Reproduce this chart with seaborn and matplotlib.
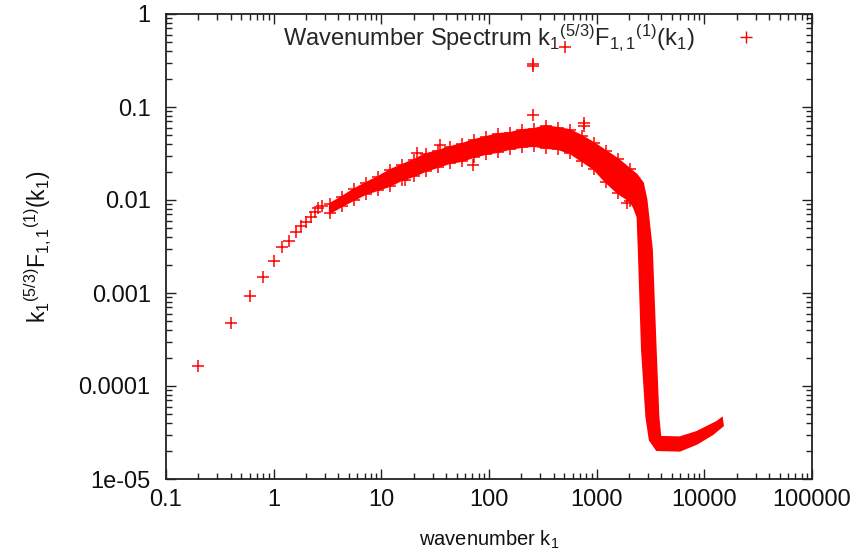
import numpy as np
import matplotlib
matplotlib.use("Agg")
import matplotlib.pyplot as plt
import seaborn as sns
from matplotlib.ticker import FixedLocator, FixedFormatter, LogLocator, NullFormatter
from matplotlib.lines import Line2D

# ---------------- data ----------------
# isolated low-wavenumber points and outliers
sparse_k = [0.2, 0.4, 0.6, 0.8, 1.0, 1.2, 1.4, 1.6, 1.8, 2.0, 2.2, 2.4, 2.6, 2.8,
            16.6, 21.4, 35.0, 71.0, 256.0, 256.0, 256.0, 512.0, 768.0, 768.0, 1900.0]
sparse_v = [1.64e-4, 4.78e-4, 9.3e-4, 1.49e-3, 2.21e-3, 3.12e-3, 3.6e-3, 4.5e-3,
            5.25e-3, 5.8e-3, 6.57e-3, 7.43e-3, 8.2e-3, 8.6e-3,
            0.0164, 0.032, 0.039, 0.0238, 0.29, 0.275, 0.082, 0.44, 0.067, 0.0625, 0.0093]

# dense band: points along its upper and lower edges
band_k = [3.33, 4.31, 5.57, 7.19, 9.30, 12.0, 15.5, 20.1, 25.9, 33.5, 43.4, 56.0, 72.4,
          93.6, 121, 156, 202, 261, 338, 436, 564, 729, 942, 1217, 1573, 2034]
band_hi = [0.00906, 0.01077, 0.01300, 0.01520, 0.01760, 0.02090, 0.02370, 0.02690,
           0.03110, 0.03350, 0.03700, 0.03990, 0.04400, 0.04740, 0.05110, 0.05240,
           0.05640, 0.05780, 0.06230, 0.05930, 0.05640, 0.04860, 0.04090, 0.03350,
           0.02750, 0.02150]
band_lo = [0.00725, 0.00862, 0.01005, 0.01165, 0.01285, 0.01420, 0.01645, 0.01815,
           0.02055, 0.02270, 0.02505, 0.02635, 0.02910, 0.03135, 0.03295, 0.03545,
           0.03725, 0.03820, 0.03635, 0.03545, 0.03210, 0.02635, 0.02160, 0.01565,
           0.01190, 0.00980]

# cut-off and dissipation tail: outline of the dense region
tail_hi_k = [2362, 2685, 2900, 3254, 3530, 3740, 3900, 5923, 8520, 13060, 14540]
tail_hi_v = [0.01857, 0.0152, 0.0100, 0.0029, 2.44e-4, 4.64e-5, 2.83e-5, 2.80e-5,
             3.20e-5, 4.1e-5, 4.5e-5]
tail_lo_k = [2215, 2400, 2465, 2640, 2900, 3119, 3622, 5923, 8520, 11990, 14860]
tail_lo_v = [0.0084, 0.00657, 0.0029, 2.44e-4, 4.64e-5, 2.63e-5, 2.05e-5, 2.02e-5,
             2.40e-5, 3.05e-5, 3.75e-5]

xticks = [0.1, 1, 10, 100, 1000, 10000, 100000]
xtick_labels = ["0.1", "1", "10", "100", "1000", "10000", "100000"]
yticks = [1e-5, 1e-4, 1e-3, 1e-2, 1e-1, 1]
ytick_labels = ["1e-05", "0.0001", "0.001", "0.01", "0.1", "1"]

legend_label = r"Wavenumber Spectrum $\mathregular{k_1{}^{(5/3)}F_{1,1}{}^{(1)}(k_1)}$"
xlabel = r"wavenumber $\mathregular{k_1}$"
ylabel = r"$\mathregular{k_1{}^{(5/3)}F_{1,1}{}^{(1)}(k_1)}$"

# ---------------- style ----------------
sns.set_style("ticks")
plt.rcParams["font.family"] = ["Liberation Sans", "DejaVu Sans"]
plt.rcParams["mathtext.fontset"] = "custom"
plt.rcParams["mathtext.rm"] = "Liberation Sans"
plt.rcParams["mathtext.it"] = "Liberation Sans"
TICK_FS = 17
LEG_FS = 17
XLAB_FS = 14.5
YLAB_FS = 16.5
RED = "#ff0000"

fig = plt.figure(figsize=(8.58, 5.53), dpi=100)
ax = fig.add_axes([166 / 858, 1 - 479 / 553, (812 - 166) / 858, (479 - 14) / 553])
ax.set_xscale("log")
ax.set_yscale("log")

# dense core of the spectrum
poly_k = list(band_k) + list(tail_hi_k) + list(tail_lo_k)[::-1] + list(band_k)[::-1]
poly_v = list(band_hi) + list(tail_hi_v) + list(tail_lo_v)[::-1] + list(band_lo)[::-1]
ax.fill(poly_k, poly_v, color=RED, lw=1.5, ec=RED, zorder=2)

all_k = sparse_k + band_k + band_k
all_v = sparse_v + band_hi + band_lo
sns.scatterplot(x=all_k, y=all_v, marker="+", s=70, color=RED, linewidth=1.1,
                ax=ax, legend=False, zorder=3)

ax.set_xlim(0.1, 1e5)
ax.set_ylim(1e-5, 1)

ax.xaxis.set_major_locator(FixedLocator(xticks))
ax.xaxis.set_major_formatter(FixedFormatter(xtick_labels))
ax.yaxis.set_major_locator(FixedLocator(yticks))
ax.yaxis.set_major_formatter(FixedFormatter(ytick_labels))
ax.xaxis.set_minor_locator(LogLocator(base=10, subs=np.arange(2, 10), numticks=20))
ax.yaxis.set_minor_locator(LogLocator(base=10, subs=np.arange(2, 10), numticks=20))
ax.xaxis.set_minor_formatter(NullFormatter())
ax.yaxis.set_minor_formatter(NullFormatter())

ax.tick_params(which="both", direction="in", top=True, right=True, color="#222222",
               labelsize=TICK_FS, labelcolor="#111111")
ax.tick_params(which="major", length=7, width=1.0)
ax.tick_params(which="minor", length=4.5, width=1.0)
ax.tick_params(axis="x", which="major", pad=7)
ax.tick_params(axis="y", which="major", pad=11)
for sp in ax.spines.values():
    sp.set_linewidth(1.3)
    sp.set_color("#222222")

ax.set_xlabel(xlabel, fontsize=XLAB_FS, color="#111111", labelpad=13)
ax.set_ylabel(ylabel, fontsize=YLAB_FS, color="#111111", labelpad=18)

handle = Line2D([], [], marker="+", color=RED, linestyle="none", markersize=8.5, mew=1.0)
ax.legend([handle], [legend_label], loc="upper right", bbox_to_anchor=(0.935, 0.983),
          frameon=False, markerfirst=False, handletextpad=1.2, borderpad=0,
          borderaxespad=0, fontsize=LEG_FS, handlelength=2)

fig.savefig("out.png", dpi=100)
